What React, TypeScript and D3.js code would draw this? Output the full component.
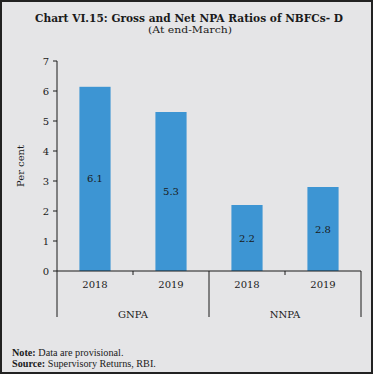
import React from 'react';
import * as d3 from 'd3';

const groups = ['GNPA', 'NNPA'];
const years = ['2018', '2019'];
const values = [6.14, 5.3, 2.2, 2.8];
const valueLabels = ['6.1', '5.3', '2.2', '2.8'];
const yTicks = [0, 1, 2, 3, 4, 5, 6, 7];

const W = 373;
const H = 374;
const margin = {left: 57, right: 12, top: 61, bottom: 103};
const font = '"DejaVu Serif", "Liberation Serif", serif';
const noteFont = '"Liberation Serif", serif';
const ink = '#1a1a1a';

export default function App() {
  const categories = groups.flatMap(g => years.map(y => `${g}-${y}`));

  const x = d3.scaleBand()
    .domain(categories)
    .range([margin.left, W - margin.right])
    .paddingInner(0.59)
    .paddingOuter(0.295);

  const y = d3.scaleLinear()
    .domain([0, 7])
    .range([H - margin.bottom, margin.top]);

  const step = x.step();
  const y0 = y(0);
  const groupWidth = step * years.length;

  return (
    <svg width={W} height={H} style={{position: 'absolute', left: 0, top: 0}}
      fontFamily={font}>
      <rect x={1} y={1} width={W - 2} height={H - 2} fill="#e5e5e7"
        stroke="#222" strokeWidth={2}/>

      <text x={189} y={18} dy="0.35em" textAnchor="middle" fontSize={10.5}
        fontWeight="bold" fill={ink} textLength={308} lengthAdjust="spacingAndGlyphs">
        Chart VI.15: Gross and Net NPA Ratios of NBFCs- D
      </text>
      <text x={190} y={29.5} dy="0.35em" textAnchor="middle" fontSize={10}
        fill={ink} textLength={84} lengthAdjust="spacingAndGlyphs">
        (At end-March)
      </text>

      {categories.map((c, i) => (
        <g key={c}>
          <rect x={x(c)} y={y(values[i])} width={x.bandwidth()}
            height={y0 - y(values[i])} fill="#3d95d3"/>
          <text x={x(c)! + x.bandwidth() / 2}
            y={(y(values[i]) + y0) / 2} dy="0.35em" textAnchor="middle"
            fontSize={10} fill={ink}>
            {valueLabels[i]}
          </text>
          <text x={x(c)! + x.bandwidth() / 2} y={284} dy="0.35em"
            textAnchor="middle" fontSize={10} fill={ink}>
            {years[i % years.length]}
          </text>
        </g>
      ))}

      {yTicks.map(t => (
        <g key={t}>
          <line x1={margin.left - 4} x2={margin.left} y1={y(t)} y2={y(t)}
            stroke={ink}/>
          <text x={margin.left - 8} y={y(t)} dy="0.35em" textAnchor="end"
            fontSize={10} fill={ink}>{t}</text>
        </g>
      ))}
      <line x1={margin.left} x2={margin.left} y1={y(7)} y2={y0} stroke={ink}/>
      <line x1={margin.left} x2={W - margin.right} y1={y0} y2={y0} stroke={ink}/>

      {categories.map((c, i) => i % 2 === 1 ? (
        <line key={c} x1={margin.left + step * i} x2={margin.left + step * i}
          y1={y0} y2={y0 + 4} stroke={ink}/>
      ) : null)}
      {d3.range(groups.length + 1).map(i => (
        <line key={i} x1={margin.left + groupWidth * i}
          x2={margin.left + groupWidth * i} y1={y0} y2={317} stroke={ink}/>
      ))}
      {groups.map((g, i) => (
        <text key={g} x={margin.left + groupWidth * (i + 0.5)} y={314} dy="0.35em"
          textAnchor="middle" fontSize={10} fill={ink}>{g}</text>
      ))}

      <text transform={`translate(20,${(y(7) + y0) / 2}) rotate(-90)`}
        dy="0.35em" textAnchor="middle" fontSize={10} fill={ink}>
        Per cent
      </text>

      <text x={12} y={352} dy="0.35em" fontSize={10.2} fill={ink} fontFamily={noteFont}>
        <tspan fontWeight="bold">Note:</tspan> Data are provisional.
      </text>
      <text x={12} y={363} dy="0.35em" fontSize={10.2} fill={ink} fontFamily={noteFont}>
        <tspan fontWeight="bold">Source:</tspan> Supervisory Returns, RBI.
      </text>
    </svg>
  );
}
